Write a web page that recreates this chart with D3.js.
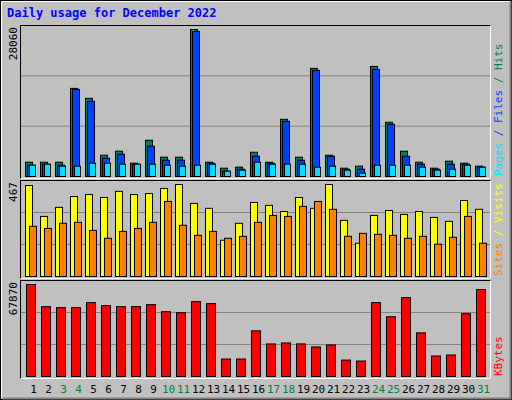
<!DOCTYPE html>
<html><head><meta charset="utf-8">
<script src="https://cdn.jsdelivr.net/npm/d3@7"></script>
<style>body{margin:0;background:#fff}</style>
</head><body>
<div class="graph"></div>
<script>
var days = d3.range(1, 32)
var weekend = [3, 4, 10, 11, 17, 18, 24, 25, 31]
var hits = [2730,2730,2730,16820,14920,4060,4830,2540,6920,3680,3680,28060,2730,1590,1780,4630,2730,10920,3680,20630,4060,1590,1970,21010,10350,4830,2730,1590,2920,2540,1970]
var files = [2160,2350,2160,16630,14350,3490,4250,2350,5780,3110,3110,27680,2540,1020,1400,3870,2540,10540,3110,20250,3870,1400,1400,20440,9970,3870,2350,1400,2350,2350,1780]
var pages = [2160,2350,1970,1970,2540,2540,2350,2350,2350,2160,1970,2160,2350,1020,1210,2730,2350,2350,2350,1780,1970,1210,640,2160,2160,2160,1780,1210,1400,2160,1780]
var visits = [462,305,351,406,416,401,432,416,421,447,467,371,346,184,270,376,361,330,401,346,467,285,169,310,335,315,330,300,280,386,341]
var sites = [255,244,270,275,234,194,229,244,275,381,260,209,229,194,204,275,310,305,356,381,341,204,219,214,209,194,204,164,199,305,169]
var kbytes = [67870,51520,50780,50780,54490,52270,51520,51520,53010,47800,47060,55230,53750,12880,12880,33690,24030,24770,24030,21800,23280,12140,11390,54490,44090,58210,32200,15110,15850,46320,64150]

var W = 512, H = 400
var svg = d3.select('.graph').append('svg').attr('width', W).attr('height', H)
  .style('font-family', 'DejaVu Sans Mono, monospace')

svg.append('rect').attr('x', 0).attr('y', 0).attr('width', W).attr('height', H).attr('fill', '#c0c0c0')
svg.append('rect').attr('x', 0.5).attr('y', 0.5).attr('width', W - 1).attr('height', H - 1).attr('fill', 'none').attr('stroke', '#000')
svg.append('path').attr('d', 'M1.5,398.5V1.5H510.5').attr('stroke', '#fff').attr('fill', 'none')
svg.append('path').attr('d', 'M2.5,398.5H510.5V1.5').attr('stroke', '#808080').attr('stroke-width', 2).attr('fill', 'none')

svg.append('text').attr('x', 7).attr('y', 17).text('Daily usage for December 2022')
  .attr('fill', '#0000ff').attr('font-weight', 'bold').attr('font-size', 12)

var x = d3.scaleBand().domain(days).range([22, 487])

var panels = [
  {top: 25, bottom: 178, max: 28060, series: [[hits, '#00805c', 0, 8], [files, '#0040ff', 2, 8], [pages, '#00e0ff', 4, 7]],
   legend: [['Pages', '#00e0ff'], [' / ', '#0040ff'], ['Files', '#0040ff'], [' / ', '#00805c'], ['Hits', '#00805c']]},
  {top: 180, bottom: 278, max: 467, series: [[visits, '#ffff00', 0, 8], [sites, '#ff8000', 4, 8]],
   legend: [['Sites', '#ff8000'], [' / ', '#ffff00'], ['Visits', '#ffff00']]},
  {top: 280, bottom: 378, max: 67870, series: [[kbytes, '#ff0000', 1, 10]],
   legend: [['KBytes', '#ff0000']]}
]

panels.forEach(p => {
  var base = p.bottom - 2
  var y = d3.scaleLinear().domain([0, p.max]).range([base, base - (p.bottom - p.top - 6)])
  var g = svg.append('g')
  g.append('rect').attr('x', 20.5).attr('y', p.top + 0.5).attr('width', 470).attr('height', p.bottom - p.top)
    .attr('fill', '#c0c0c0').attr('stroke', '#000')
  g.append('path').attr('d', `M20.5,${p.bottom + 0.5}H490.5V${p.top + 0.5}`).attr('stroke', '#fff').attr('fill', 'none')
  var gh = (base - p.top) / 3
  ;[1, 2].forEach(k => {
    g.append('line').attr('x1', 21).attr('x2', 490).attr('y1', base - gh * k + 0.5).attr('y2', base - gh * k + 0.5)
      .attr('stroke', '#808080')
  })
  p.series.forEach(s => {
    g.selectAll(null).data(s[0]).enter().append('rect')
      .attr('x', (d, i) => x(days[i]) + 3.5 + s[2])
      .attr('y', d => y(d) + 0.5)
      .attr('width', s[3] - 1)
      .attr('height', d => base - y(d))
      .attr('fill', s[1]).attr('stroke', '#000')
  })
  g.append('text').attr('transform', `translate(17,${p.top + 2}) rotate(-90)`)
    .attr('text-anchor', 'end').attr('font-size', 11).attr('fill', '#000').text(d3.format('d')(p.max))
  var t = g.append('text').attr('transform', `translate(502,${p.bottom - 2}) rotate(-90)`)
    .attr('font-size', 11)
  p.legend.forEach(l => t.append('tspan').attr('fill', l[1]).text(l[0]))
})

svg.selectAll('.day').data(days).enter().append('text')
  .attr('x', d => x(d) + x.bandwidth() / 2 + 4)
  .attr('y', 393).attr('text-anchor', 'middle').attr('font-size', 11)
  .attr('fill', d => weekend.includes(d) ? '#008040' : '#000')
  .text(d => d)
</script>
</body></html>
